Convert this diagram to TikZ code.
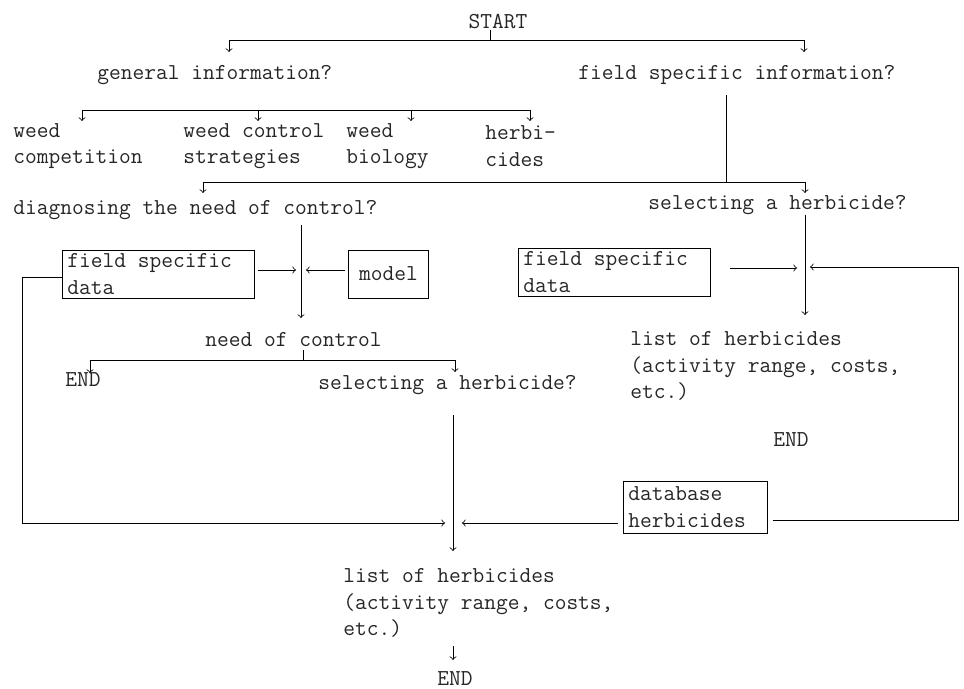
\documentclass[tikz,border=0pt]{standalone}
\usetikzlibrary{positioning}
\begin{document}
\begin{tikzpicture}
  [x=0.5pt,y=-0.5pt,>=to,
   every node/.style={font=\ttfamily\fontsize{11.4}{13.2}\selectfont,inner sep=0pt,align=left,text=black!85},
   txt/.style={anchor=west},
   databox/.style={draw,anchor=west,minimum height=24pt,inner xsep=2.5pt,
     execute at begin node={\spaceskip=\fontdimen2\font\relax}}]
  \useasboundingbox (0,0) rectangle (964,689);

  % questions and answers
  \node (start) at (498,22) {START};
  \node [txt] (gen) at (97,75) {general information?};
  \node [txt] (fsi) at (578,75) {field specific information?};
  \node [txt] (comp) at (13,146) {weed\\competition};
  \node [txt] (strat) at (183,146) {weed control\\strategies};
  \node [txt] (bio) at (346,146) {weed\\biology};
  \node [txt] (herb) at (485,146) {herbi-\\cides};
  \node [txt] (diag) at (13,210) {diagnosing the need of control?};
  \node [txt] (selr) at (648,205) {selecting a herbicide?};
  \node [txt] (need) at (205,340) {need of control};
  \node [txt] (end1) at (65,380) {END};
  \node [txt] (selm) at (318,385) {selecting a herbicide?};
  \node [txt] (listr) at (630,366) {list of herbicides\\(activity range, costs,\\etc.)};
  \node [txt] (end2) at (773,440) {END};
  \node [txt] (listm) at (343,603) {list of herbicides\\(activity range, costs,\\etc.)};
  \node (end3) at (455,679) {END};

  % data sources
  \node [databox,text width=91pt] (fsd1) at (62,274) {field specific\\data};
  \node [databox,minimum width=40pt,align=center] (model) at (348,274) {model};
  \node [databox,text width=91pt] (fsd2) at (518,272) {field specific\\data};
  \node [databox,text width=67pt,minimum height=26pt] (dbh) at (623,507) {database\\herbicides};

  % branching points
  \coordinate (s1) at (229,40);   \coordinate (s2) at (804,40);
  \coordinate (g1) at (82,110);   \coordinate (g2) at (258,110);
  \coordinate (g3) at (411,110);  \coordinate (g4) at (530,110);
  \coordinate (f0) at (726,95);   \coordinate (f1) at (203,182);
  \coordinate (f2) at (805,182);
  \coordinate (d0) at (301,225);  \coordinate (d1) at (301,318);
  \coordinate (n1) at (90,360);   \coordinate (n2) at (455,360);
  \coordinate (m0) at (453,415);  \coordinate (m1) at (453,551);
  \coordinate (r0) at (805,215);  \coordinate (r1) at (805,315);
  \coordinate (lp) at (22,523);   \coordinate (rp) at (958,520);

  \draw (start.south -| 490,0) -- (490,40);
  \draw (s1) -- (s2);
  \draw [->] (s1) -- +(0,12);
  \draw [->] (s2) -- +(0,12);
  \draw (g1) -- (g4);
  \foreach \g in {g1,g2,g3,g4}
    \draw [->] (\g) -- +(0,11);
  \draw (f0) -- (726,182);
  \draw (f1) -- (f2);
  \draw [->] (f1) -- +(0,11);
  \draw [->] (f2) -- +(0,11);

  % diagnosing branch
  \draw [->] (d0) -- (d1);
  \draw [->] (fsd1.east) ++(3,-4) -- (296,270);
  \draw [->] (model.west) ++(-3,-4) -- (306,270);
  \draw (303,350) -- (303,360);
  \draw (n1) -- (n2);
  \draw [->] (n1) -- +(0,13);
  \draw [->] (n2) -- +(0,12);
  \draw [->] (m0) -- (m1);
  \draw [->] (fsd1.west) ++(0,3) -| (lp) -- (445,523);
  \draw [->] (dbh.west) ++(-5,16) -- (462,523);
  \draw [->] (dbh.east) ++(5,13) -| (rp) |- (810,267);

  % selecting branch
  \draw [->] (r0) -- (r1);
  \draw [->] (730,268) -- (797,268);
  \draw [->] (453,646) -- (453,660);
\end{tikzpicture}
\end{document}
